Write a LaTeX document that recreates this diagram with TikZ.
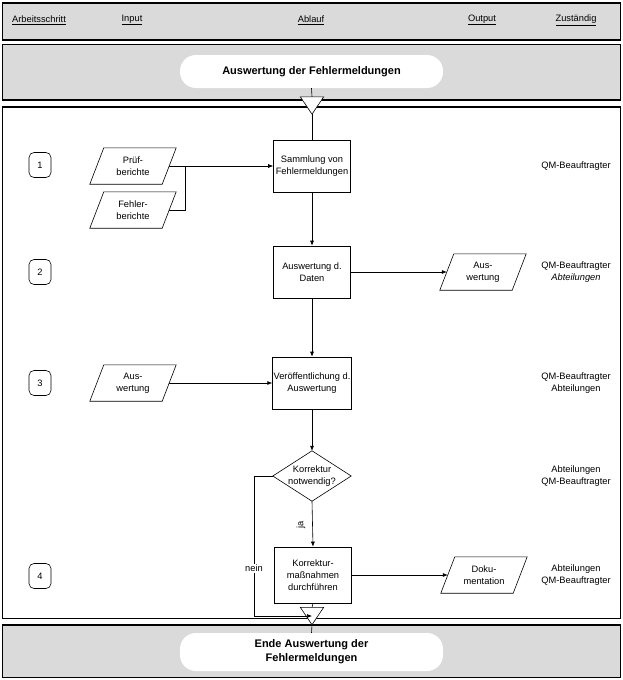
\documentclass[tikz,border=0pt]{standalone}
\usepackage{fontspec}
\setmainfont{Liberation Sans}
\usetikzlibrary{arrows.meta,calc}
\definecolor{bandgray}{RGB}{218,218,218}
\tikzset{
  txt/.style={font=\fontsize{9.3}{12}\selectfont, align=center, inner sep=1pt},
  band/.style={draw=black, fill=bandgray, line width=1.1pt},
  mainframe/.style={draw=black, fill=white, line width=1.1pt},
  pill/.style={fill=white, rounded corners=16pt, font=\fontsize{11}{14}\selectfont\bfseries, align=center},
  procbox/.style={txt, draw=black, fill=white, minimum width=77pt, minimum height=52pt, line width=0.6pt},
  stepbox/.style={txt, draw=black, fill=white, rounded corners=5pt, minimum width=22pt, minimum height=25pt, line width=0.6pt},
  parabox/.style={txt, minimum width=72pt, minimum height=36pt},
  paraline/.style={draw=black, fill=white, line width=0.6pt},
  flow/.style={line width=0.6pt, -{Latex[length=5pt,width=4pt]}},
  plain/.style={line width=0.6pt},
  resp/.style={txt},
  hdr/.style={txt}
}
\newcommand{\paradraw}[1]{%
  \path[paraline] ([xshift=7pt]#1.north west) -- ([xshift=7pt]#1.north east) -- ([xshift=-7pt]#1.south east) -- ([xshift=-7pt]#1.south west) -- cycle;}
\newcommand{\triangdraw}[1]{%
  \path[paraline] (#1.north west) -- (#1.north east) -- (#1.south) -- cycle;}
\begin{document}
\begin{tikzpicture}[x=1pt,y=-1pt]
\useasboundingbox (0,0) rectangle (623,680);
% bands
\path[band] (2.5,3) rectangle (620.5,40);
\path[band] (2.5,44.5) rectangle (620.5,100);
\path[mainframe] (2.5,107) rectangle (620.5,618.5);
\path[band] (2.5,625) rectangle (620.5,677.5);
% header
\node[hdr] (h1) at (39,20) {\underline{Arbeitsschritt}};
\node[hdr] (h2) at (132,20) {\underline{Input}};
\node[hdr] (h3) at (311,20) {\underline{Ablauf}};
\node[hdr] (h4) at (482,20) {\underline{Output}};
\node[hdr] (h5) at (576,20) {\underline{Zuständig}};
% title pills
\node[pill, minimum width=263pt, minimum height=33pt] (start) at (311.5,71.5) {Auswertung der Fehlermeldungen};
\node[pill, minimum width=263pt, minimum height=38pt] (ende) at (311.5,652) {Ende Auswertung der\\Fehlermeldungen};
% triangles
\node[minimum width=23pt, minimum height=17pt, inner sep=0] (t1) at (312,105.5) {};
\node[minimum width=23pt, minimum height=17pt, inner sep=0] (t2) at (312,616) {};
% steps
\node[stepbox] (s1) at (40,165) {1};
\node[stepbox] (s2) at (40,272) {2};
\node[stepbox] (s3) at (40,383) {3};
\node[stepbox] (s4) at (40,576) {4};
% process boxes
\node[procbox] (samm) at (312,166) {Sammlung von\\Fehlermeldungen};
\node[procbox] (daten) at (312,272) {Auswertung d.\\Daten};
\node[procbox] (veroef) at (312,383) {Veröffentlichung d.\\Auswertung};
\node[minimum width=78pt, minimum height=50pt, inner sep=0] (dia) at (312,476) {};
\node[procbox, minimum height=56pt] (korr) at (313,575) {Korrektur-\\maßnahmen\\durchführen};
% parallelograms
\node[parabox] (pruef) at (133,166) {};
\node[parabox] (fehler) at (133,210) {};
\node[parabox] (ausout) at (483,272) {};
\node[parabox] (ausin) at (133,383) {};
\node[parabox] (doku) at (484,575) {};
\coordinate (j1) at (185,166);
\coordinate (nl) at (254,476);
\coordinate (nb) at (254,616);
% connectors
\draw[plain] (start.south) -- (t1.north);
\draw[plain] (t1.south) -- (samm.north);
\draw[plain] (korr.south) -- (t2.north);
\draw[plain] (t2.south) -- (ende.north);
\draw[flow] (pruef.east) -- (samm.west);
\draw[plain] (fehler.east) -| (j1);
\draw[flow] (samm.south) -- (daten.north);
\draw[flow] (daten.east) -- (ausout.west);
\draw[flow] (daten.south) -- (veroef.north);
\draw[flow] (ausin.east) -- (veroef.west);
\draw[flow] (veroef.south) -- (dia.north);
\draw[flow] (dia.south) -- (korr.north);
\node[txt, rotate=90] (ja) at (301,525) {ja};
\draw[flow] (korr.east) -- (doku.west);
% shapes on top
\paradraw{pruef}
\paradraw{fehler}
\paradraw{ausout}
\paradraw{ausin}
\paradraw{doku}
\path[paraline] (dia.north) -- (dia.east) -- (dia.south) -- (dia.west) -- cycle;
\triangdraw{t1}
\triangdraw{t2}
\draw[flow] (dia.west) -- (nl) -- node[txt, fill=white, pos=0.66] {nein} (nb) -- (t2.center);
% texts in parallelograms
\node[txt] at (pruef) {Prüf-\\berichte};
\node[txt] at (fehler) {Fehler-\\berichte};
\node[txt] at (ausout) {Aus-\\wertung};
\node[txt] at (ausin) {Aus-\\wertung};
\node[txt] at (doku) {Doku-\\mentation};
\node[txt] at (dia) {Korrektur\\notwendig?};
% responsibilities
\node[resp] (r1) at (576,166) {QM-Beauftragter};
\node[resp] (r2) at (576,272) {QM-Beauftragter\\\textit{Abteilungen}};
\node[resp] (r3) at (576,383) {QM-Beauftragter\\Abteilungen};
\node[resp] (r4) at (576,476) {Abteilungen\\QM-Beauftragter};
\node[resp] (r5) at (576,575) {Abteilungen\\QM-Beauftragter};
\end{tikzpicture}
\end{document}
